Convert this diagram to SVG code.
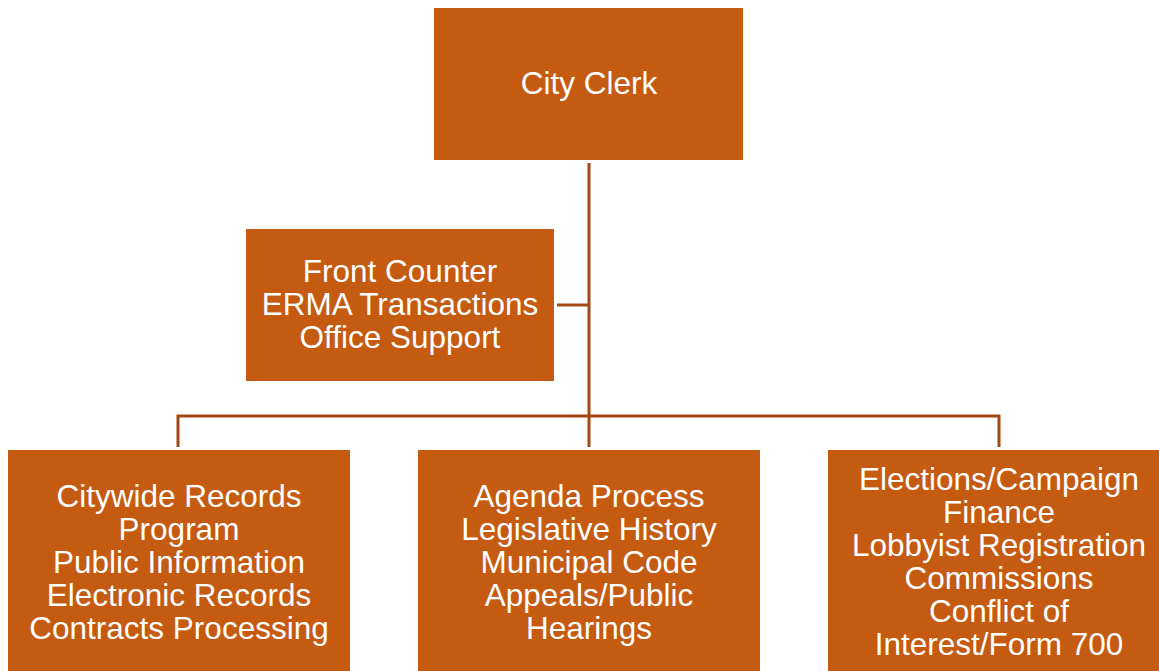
<svg xmlns="http://www.w3.org/2000/svg" width="1159" height="671" viewBox="0 0 1159 671">
<style>
.box{fill:#C55A11;}
.t{fill:#FFFFFF;font-family:"Liberation Sans",Arial,sans-serif;font-size:31.5px;text-anchor:middle;}
.ln{stroke:#A34A14;stroke-width:3;fill:none;}
</style>
<rect width="1159" height="671" fill="#FFFFFF"/>
<g id="connectors">
<line class="ln" x1="589" y1="163" x2="589" y2="447"/>
<line class="ln" x1="557" y1="305" x2="589" y2="305"/>
<polyline class="ln" points="178,447 178,416 999,416 999,447"/>
</g>
<g id="city-clerk">
<rect class="box" x="434" y="8" width="309" height="152"/>
<text class="t" x="589" y="94">City Clerk</text>
</g>
<g id="front-counter">
<rect class="box" x="246" y="229" width="308" height="152"/>
<text class="t" x="400" y="282">Front Counter</text>
<text class="t" x="400" y="315">ERMA Transactions</text>
<text class="t" x="400" y="348">Office Support</text>
</g>
<g id="records">
<rect class="box" x="8" y="450" width="342" height="221"/>
<text class="t" x="179" y="507">Citywide Records</text>
<text class="t" x="179" y="540">Program</text>
<text class="t" x="179" y="573">Public Information</text>
<text class="t" x="179" y="606">Electronic Records</text>
<text class="t" x="179" y="639">Contracts Processing</text>
</g>
<g id="agenda">
<rect class="box" x="418" y="450" width="342" height="221"/>
<text class="t" x="589" y="507">Agenda Process</text>
<text class="t" x="589" y="540">Legislative History</text>
<text class="t" x="589" y="573">Municipal Code</text>
<text class="t" x="589" y="606">Appeals/Public</text>
<text class="t" x="589" y="639">Hearings</text>
</g>
<g id="elections">
<rect class="box" x="828" y="450" width="331" height="221"/>
<text class="t" x="999" y="490">Elections/Campaign</text>
<text class="t" x="999" y="523">Finance</text>
<text class="t" x="999" y="556">Lobbyist Registration</text>
<text class="t" x="999" y="589">Commissions</text>
<text class="t" x="999" y="622">Conflict of</text>
<text class="t" x="999" y="655">Interest/Form 700</text>
</g>
</svg>
